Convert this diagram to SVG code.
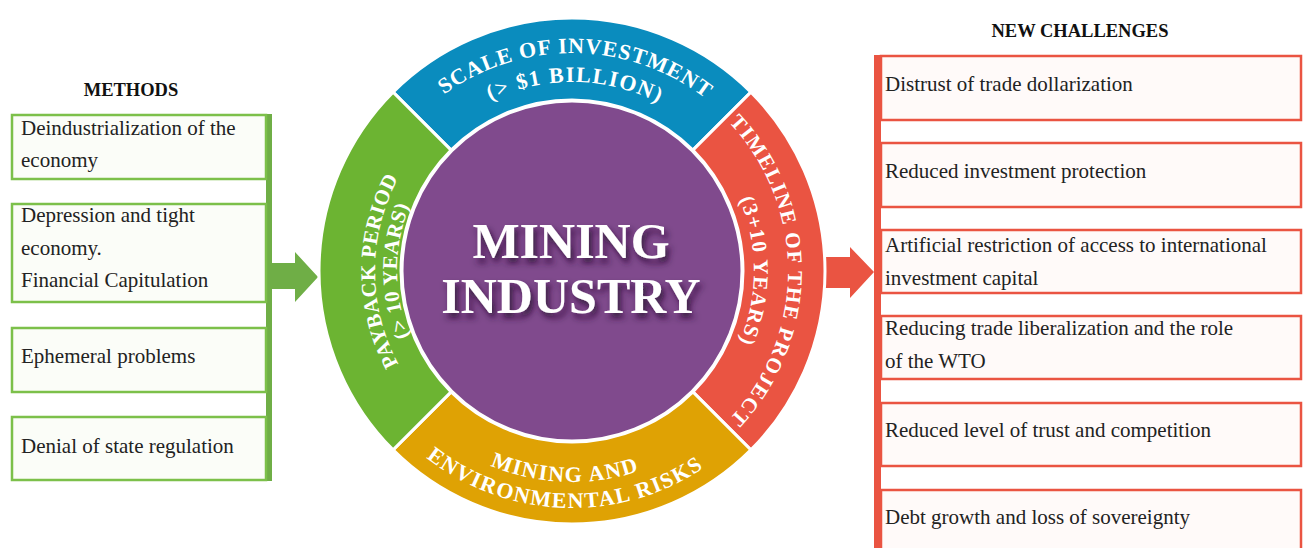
<svg xmlns="http://www.w3.org/2000/svg" width="1303" height="548" viewBox="0 0 1303 548">
<style>
.title{font-family:"Liberation Serif",serif;font-weight:bold;font-size:18.5px;fill:#111;text-anchor:middle}
.bt{font-family:"Liberation Serif",serif;font-size:21px;fill:#222}
.lbox{fill:#FBFDF8;stroke:#7CC04A;stroke-width:2.5}
.rbox{fill:#FFFAF9;stroke:#EA5442;stroke-width:2.5}
.seg{stroke:#fff;stroke-width:3}
.arc{font-family:"Liberation Serif",serif;font-weight:bold;fill:#fff}
.big{font-family:"Liberation Serif",serif;font-weight:bold;font-size:50px;fill:#fff;text-anchor:middle}
</style>
<defs>
<path id="top1" d="M354,271 A218,218 0 0 1 790,271"/>
<path id="top2" d="M383,271 A189,189 0 0 1 761,271"/>
<path id="right1" d="M572,55 A216,216 0 0 1 572,487"/>
<path id="right2" d="M572,89 A182,182 0 0 1 572,453"/>
<path id="left1" d="M572,468 A197,197 0 0 1 572,74"/>
<path id="left2" d="M572,446 A175,175 0 0 1 572,96"/>
<path id="bot1" d="M361,271 A211,211 0 0 0 783,271"/>
<path id="bot2" d="M335,271 A237,237 0 0 0 809,271"/>
<filter id="shadow" x="-20%" y="-30%" width="140%" height="160%">
<feDropShadow dx="3" dy="5" stdDeviation="3" flood-color="#2a0f33" flood-opacity="0.85"/>
</filter>
</defs>
<rect width="1303" height="548" fill="#fff"/>
<text class="title" x="131" y="96">METHODS</text>
<text class="title" x="1080" y="37">NEW CHALLENGES</text>
<g id="connectors">
<rect x="266" y="114" width="6" height="367" fill="#6FAE46"/>
<polygon points="272,263 295,263 295,252 318,277 295,302 295,289 272,289" fill="#6FAE46"/>
<rect x="874" y="55" width="7" height="493" fill="#EA5442"/>
<polygon points="820,257 850,257 850,247 874,272 850,298 850,288 820,288" fill="#EA5442"/>
</g>
<g id="method-1"><rect class="lbox" x="12" y="115" width="254" height="64"/><text class="bt" x="21" y="135">Deindustrialization of the</text><text class="bt" x="21" y="167">economy</text></g>
<g id="method-2"><rect class="lbox" x="12" y="204" width="254" height="98"/><text class="bt" x="21" y="222">Depression and tight</text><text class="bt" x="21" y="255">economy.</text><text class="bt" x="21" y="287">Financial Capitulation</text></g>
<g id="method-3"><rect class="lbox" x="12" y="328" width="254" height="64"/><text class="bt" x="21" y="363">Ephemeral problems</text></g>
<g id="method-4"><rect class="lbox" x="12" y="417" width="254" height="63"/><text class="bt" x="21" y="453">Denial of state regulation</text></g>
<g id="challenge-1"><rect class="rbox" x="881" y="56" width="420" height="64"/><text class="bt" x="885" y="91">Distrust of trade dollarization</text></g>
<g id="challenge-2"><rect class="rbox" x="881" y="143" width="420" height="64"/><text class="bt" x="885" y="178">Reduced investment protection</text></g>
<g id="challenge-3"><rect class="rbox" x="881" y="230" width="420" height="63"/><text class="bt" x="885" y="252">Artificial restriction of access to international</text><text class="bt" x="885" y="285">investment capital</text></g>
<g id="challenge-4"><rect class="rbox" x="881" y="316" width="420" height="63"/><text class="bt" x="885" y="335">Reducing trade liberalization and the role</text><text class="bt" x="885" y="368">of the WTO</text></g>
<g id="challenge-5"><rect class="rbox" x="881" y="403" width="420" height="63"/><text class="bt" x="885" y="437">Reduced level of trust and competition</text></g>
<g id="challenge-6"><rect class="rbox" x="881" y="490" width="420" height="70"/><text class="bt" x="885" y="524">Debt growth and loss of sovereignty</text></g>
<g id="scale">
<path class="seg" fill="#0A8CBE" d="M393.1,92.1 A253,253 0 0 1 750.9,92.1 L692.92,150.08 A171,171 0 0 0 451.08,150.08 Z"/>
<g transform="rotate(1 572 271)">
<text class="arc" font-size="22" letter-spacing="1"><textPath href="#top1" startOffset="50%" text-anchor="middle">SCALE OF INVESTMENT</textPath></text>
<text class="arc" font-size="22" letter-spacing="1.5"><textPath href="#top2" startOffset="50%" text-anchor="middle">(&gt; $1 BILLION)</textPath></text>
</g>
</g>
<g id="timeline">
<path class="seg" fill="#EA5442" d="M750.9,92.1 A253,253 0 0 1 750.9,449.9 L692.92,391.92 A171,171 0 0 0 692.92,150.08 Z"/>
<text class="arc" font-size="21" letter-spacing="1.5"><textPath href="#right1" startOffset="50%" text-anchor="middle">TIMELINE OF THE PROJECT</textPath></text>
<text class="arc" font-size="21" letter-spacing="1.2"><textPath href="#right2" startOffset="50%" text-anchor="middle">(3+10 YEARS)</textPath></text>
</g>
<g id="risks">
<path class="seg" fill="#DFA204" d="M750.9,449.9 A253,253 0 0 1 393.1,449.9 L451.08,391.92 A171,171 0 0 0 692.92,391.92 Z"/>
<g transform="rotate(2 572 271)">
<text class="arc" font-size="22" letter-spacing="1.5"><textPath href="#bot1" startOffset="50%" text-anchor="middle">MINING AND</textPath></text>
<text class="arc" font-size="22" letter-spacing="1.5"><textPath href="#bot2" startOffset="50%" text-anchor="middle">ENVIRONMENTAL RISKS</textPath></text>
</g>
</g>
<g id="payback">
<path class="seg" fill="#6CB432" d="M393.1,449.9 A253,253 0 0 1 393.1,92.1 L451.08,150.08 A171,171 0 0 0 451.08,391.92 Z"/>
<text class="arc" font-size="21" letter-spacing="0.5"><textPath href="#left1" startOffset="50%" text-anchor="middle">PAYBACK PERIOD</textPath></text>
<text class="arc" font-size="21" letter-spacing="0.5"><textPath href="#left2" startOffset="50%" text-anchor="middle">(&gt; 10 YEARS)</textPath></text>
</g>
<g id="mining-industry">
<circle cx="572" cy="271" r="170" fill="#804A8D" stroke="#fff" stroke-width="3"/>
<g filter="url(#shadow)">
<text class="big" x="571" y="258">MINING</text>
<text class="big" x="571" y="313">INDUSTRY</text>
</g>
</g>
</svg>
